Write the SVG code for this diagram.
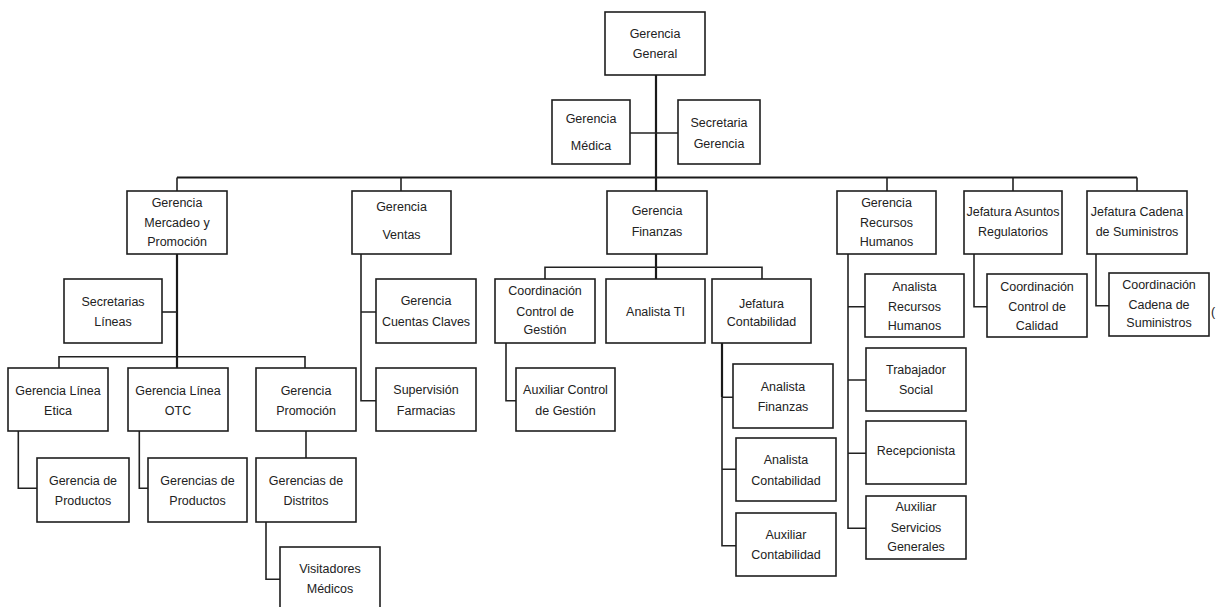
<svg xmlns="http://www.w3.org/2000/svg" width="1216" height="607" viewBox="0 0 1216 607">
  <style>
    .box { fill: #ffffff; stroke: #1e1e1e; stroke-width: 1.6; }
    .lbl { font-family: "Liberation Sans", Arial, sans-serif; font-size: 12.5px; fill: #222222; text-anchor: middle; }
    .wire { fill: none; stroke: #222222; stroke-width: 1.6; }
    .trunk { fill: none; stroke: #1a1a1a; stroke-width: 2.2; }
  </style>
  <rect width="1216" height="607" fill="#ffffff"/>

  <!-- connectors -->
  <g id="connectors">
    <path class="trunk" d="M656 75 V191"/>
    <path class="wire" d="M630 133 H678"/>
    <path class="trunk" d="M177 177.5 H1137"/>
    <path class="wire" d="M177 177.5 V191 M401 177.5 V191 M887 177.5 V191 M1013 177.5 V191 M1137 177.5 V191"/>
    <!-- Mercadeo y Promoción branch -->
    <path class="trunk" d="M177 254 V368"/>
    <path class="wire" d="M162 312 H177"/>
    <path class="wire" d="M59 368 V356.7 H305 V368"/>
    <path class="wire" d="M18.3 431 V488.3 H37"/>
    <path class="wire" d="M139.3 431 V488.3 H148"/>
    <path class="wire" d="M306 431 V458"/>
    <path class="wire" d="M266 522 V579.3 H280"/>
    <!-- Ventas branch -->
    <path class="wire" d="M361 254 V400.7 H376 M361 312 H376"/>
    <!-- Finanzas branch -->
    <path class="trunk" d="M656 254 V279"/>
    <path class="wire" d="M545 279 V267.3 H762 V279"/>
    <path class="wire" d="M506 343 V400.7 H516"/>
    <path class="trunk" d="M722 343 V397.3"/>
    <path class="wire" d="M722 397.3 V545.7 H736 M722 397.3 H733 M722 469.3 H736"/>
    <!-- Recursos Humanos branch -->
    <path class="wire" d="M848 254 V528.3 H866 M848 306.7 H865 M848 380 H866 M848 453.3 H866"/>
    <!-- Asuntos Regulatorios / Cadena de Suministros -->
    <path class="wire" d="M974 254 V306.7 H987"/>
    <path class="wire" d="M1096 254 V305.7 H1109"/>
  </g>

  <g id="gerencia-general">
    <rect class="box" x="605" y="12" width="100" height="63"/>
    <text class="lbl"><tspan x="655" y="37.5">Gerencia</tspan><tspan x="655" y="57.5">General</tspan></text>
  </g>
  <g id="gerencia-medica">
    <rect class="box" x="552" y="100" width="78" height="64"/>
    <text class="lbl"><tspan x="591" y="122.5">Gerencia</tspan><tspan x="591" y="149.5">Médica</tspan></text>
  </g>
  <g id="secretaria-gerencia">
    <rect class="box" x="678" y="100" width="82" height="64"/>
    <text class="lbl"><tspan x="719" y="126.5">Secretaria</tspan><tspan x="719" y="147.5">Gerencia</tspan></text>
  </g>

  <g id="gerencia-mercadeo">
    <rect class="box" x="127" y="191" width="100" height="63"/>
    <text class="lbl"><tspan x="177" y="207.2">Gerencia</tspan><tspan x="177" y="227.2">Mercadeo y</tspan><tspan x="177" y="246.2">Promoción</tspan></text>
  </g>
  <g id="gerencia-ventas">
    <rect class="box" x="352" y="191" width="99" height="63"/>
    <text class="lbl"><tspan x="401.5" y="211.2">Gerencia</tspan><tspan x="401.5" y="238.8">Ventas</tspan></text>
  </g>
  <g id="gerencia-finanzas">
    <rect class="box" x="607" y="191" width="100" height="63"/>
    <text class="lbl"><tspan x="657" y="215.2">Gerencia</tspan><tspan x="657" y="236.2">Finanzas</tspan></text>
  </g>
  <g id="gerencia-rrhh">
    <rect class="box" x="837" y="191" width="99" height="63"/>
    <text class="lbl"><tspan x="886.5" y="207.2">Gerencia</tspan><tspan x="886.5" y="227.2">Recursos</tspan><tspan x="886.5" y="246.2">Humanos</tspan></text>
  </g>
  <g id="jefatura-regulatorios">
    <rect class="box" x="964" y="191" width="98" height="63"/>
    <text class="lbl"><tspan x="1013" y="215.5">Jefatura Asuntos</tspan><tspan x="1013" y="236.2">Regulatorios</tspan></text>
  </g>
  <g id="jefatura-cadena">
    <rect class="box" x="1087" y="191" width="100" height="63"/>
    <text class="lbl"><tspan x="1137" y="215.5">Jefatura Cadena</tspan><tspan x="1137" y="236.2">de Suministros</tspan></text>
  </g>

  <g id="secretarias-lineas">
    <rect class="box" x="64" y="279" width="98" height="64"/>
    <text class="lbl"><tspan x="113" y="306.2">Secretarias</tspan><tspan x="113" y="326.2">Líneas</tspan></text>
  </g>
  <g id="gerencia-cuentas-claves">
    <rect class="box" x="376" y="279" width="100" height="64"/>
    <text class="lbl"><tspan x="426" y="305.2">Gerencia</tspan><tspan x="426" y="326.2">Cuentas Claves</tspan></text>
  </g>
  <g id="supervision-farmacias">
    <rect class="box" x="376" y="368" width="100" height="63"/>
    <text class="lbl"><tspan x="426" y="393.8">Supervisión</tspan><tspan x="426" y="414.5">Farmacias</tspan></text>
  </g>
  <g id="coordinacion-control-gestion">
    <rect class="box" x="495" y="279" width="100" height="64"/>
    <text class="lbl"><tspan x="545" y="294.5">Coordinación</tspan><tspan x="545" y="315.5">Control de</tspan><tspan x="545" y="333.8">Gestión</tspan></text>
  </g>
  <g id="analista-ti">
    <rect class="box" x="606" y="279" width="99" height="64"/>
    <text class="lbl"><tspan x="655.5" y="316.2">Analista TI</tspan></text>
  </g>
  <g id="jefatura-contabilidad">
    <rect class="box" x="712" y="279" width="99" height="64"/>
    <text class="lbl"><tspan x="761.5" y="307.5">Jefatura</tspan><tspan x="761.5" y="326">Contabilidad</tspan></text>
  </g>
  <g id="auxiliar-control-gestion">
    <rect class="box" x="516" y="368" width="99" height="63"/>
    <text class="lbl"><tspan x="565.5" y="393.8">Auxiliar Control</tspan><tspan x="565.5" y="414.5">de Gestión</tspan></text>
  </g>
  <g id="analista-rrhh">
    <rect class="box" x="865" y="274" width="99" height="63"/>
    <text class="lbl"><tspan x="914.5" y="290.5">Analista</tspan><tspan x="914.5" y="311.2">Recursos</tspan><tspan x="914.5" y="329.5">Humanos</tspan></text>
  </g>
  <g id="coordinacion-calidad">
    <rect class="box" x="987" y="274" width="100" height="63"/>
    <text class="lbl"><tspan x="1037" y="290.5">Coordinación</tspan><tspan x="1037" y="311.2">Control de</tspan><tspan x="1037" y="329.5">Calidad</tspan></text>
  </g>
  <g id="coordinacion-cadena">
    <rect class="box" x="1109" y="273" width="100" height="63"/>
    <text class="lbl"><tspan x="1159" y="288.8">Coordinación</tspan><tspan x="1159" y="308.8">Cadena de</tspan><tspan x="1159" y="327.2">Suministros</tspan></text>
  </g>
  <text class="lbl" x="1213" y="316.2">(</text>

  <g id="gerencia-linea-etica">
    <rect class="box" x="8" y="368" width="100" height="63"/>
    <text class="lbl"><tspan x="58" y="394.5">Gerencia Línea</tspan><tspan x="58" y="415.2">Etica</tspan></text>
  </g>
  <g id="gerencia-linea-otc">
    <rect class="box" x="128" y="368" width="100" height="63"/>
    <text class="lbl"><tspan x="178" y="394.5">Gerencia Línea</tspan><tspan x="178" y="415.2">OTC</tspan></text>
  </g>
  <g id="gerencia-promocion">
    <rect class="box" x="256" y="368" width="100" height="63"/>
    <text class="lbl"><tspan x="306" y="394.5">Gerencia</tspan><tspan x="306" y="415.2">Promoción</tspan></text>
  </g>
  <g id="gerencia-productos">
    <rect class="box" x="37" y="458" width="92" height="64"/>
    <text class="lbl"><tspan x="83" y="484.5">Gerencia de</tspan><tspan x="83" y="505.2">Productos</tspan></text>
  </g>
  <g id="gerencias-productos">
    <rect class="box" x="148" y="458" width="99" height="64"/>
    <text class="lbl"><tspan x="197.5" y="484.5">Gerencias de</tspan><tspan x="197.5" y="505.2">Productos</tspan></text>
  </g>
  <g id="gerencias-distritos">
    <rect class="box" x="256" y="458" width="100" height="64"/>
    <text class="lbl"><tspan x="306" y="484.5">Gerencias de</tspan><tspan x="306" y="505.2">Distritos</tspan></text>
  </g>
  <g id="visitadores-medicos">
    <rect class="box" x="280" y="547" width="100" height="70"/>
    <text class="lbl"><tspan x="330" y="572.8">Visitadores</tspan><tspan x="330" y="592.8">Médicos</tspan></text>
  </g>

  <g id="analista-finanzas">
    <rect class="box" x="733" y="364" width="100" height="64"/>
    <text class="lbl"><tspan x="783" y="391.2">Analista</tspan><tspan x="783" y="411.2">Finanzas</tspan></text>
  </g>
  <g id="analista-contabilidad">
    <rect class="box" x="736" y="438" width="100" height="63"/>
    <text class="lbl"><tspan x="786" y="463.8">Analista</tspan><tspan x="786" y="484.5">Contabilidad</tspan></text>
  </g>
  <g id="auxiliar-contabilidad">
    <rect class="box" x="736" y="513" width="100" height="63"/>
    <text class="lbl"><tspan x="786" y="538.8">Auxiliar</tspan><tspan x="786" y="558.8">Contabilidad</tspan></text>
  </g>
  <g id="trabajador-social">
    <rect class="box" x="866" y="348" width="100" height="63"/>
    <text class="lbl"><tspan x="916" y="373.8">Trabajador</tspan><tspan x="916" y="393.8">Social</tspan></text>
  </g>
  <g id="recepcionista">
    <rect class="box" x="866" y="421" width="100" height="63"/>
    <text class="lbl"><tspan x="916" y="455.2">Recepcionista</tspan></text>
  </g>
  <g id="auxiliar-servicios-generales">
    <rect class="box" x="866" y="496" width="100" height="63"/>
    <text class="lbl"><tspan x="916" y="511.2">Auxiliar</tspan><tspan x="916" y="532.2">Servicios</tspan><tspan x="916" y="550.5">Generales</tspan></text>
  </g>
</svg>
